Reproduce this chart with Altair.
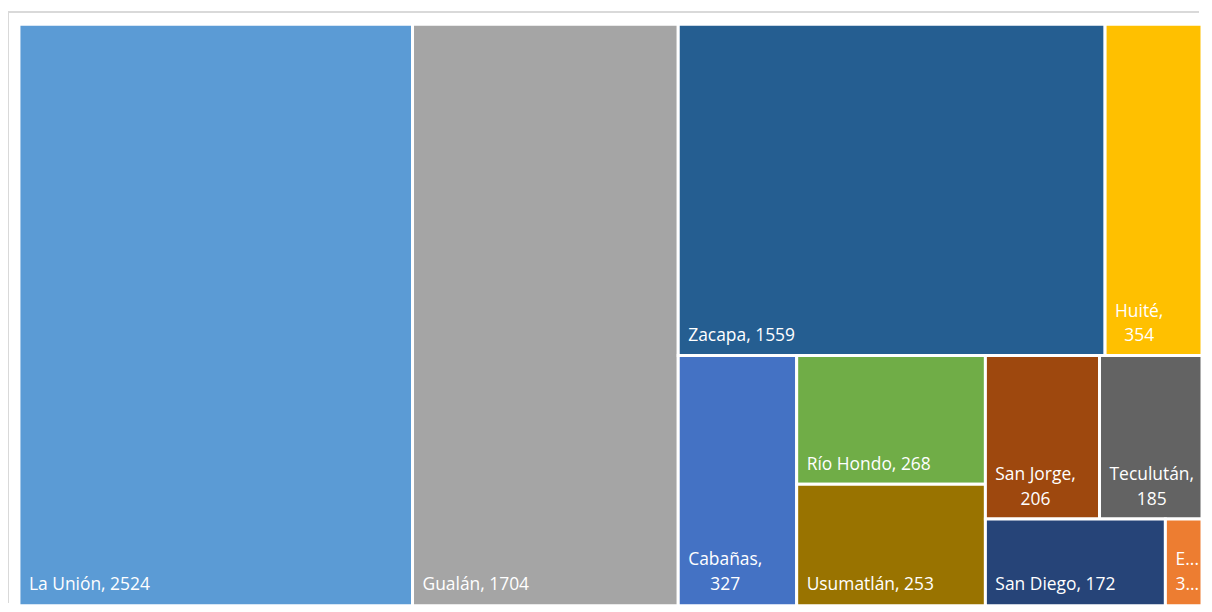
import altair as alt
import pandas as pd

# ---- data ----
names = ["La Unión", "Gualán", "Zacapa", "Huité", "Cabañas", "Río Hondo",
         "Usumatlán", "San Jorge", "Teculután", "San Diego", "Estanzuela"]
values = [2524, 1704, 1559, 354, 327, 268, 253, 206, 185, 172, 35]
colors = ["#5B9BD5", "#A5A5A5", "#255E91", "#FFC000", "#4472C4", "#70AD47",
          "#997300", "#9E480E", "#636363", "#264478", "#ED7D31"]

# how many consecutive items share each strip of the squarified layout
strip_sizes = [1, 1, 2, 1, 2, 2, 1, 1]

# ---- layout constants ----
VIEW_W, VIEW_H = 1196, 596
OFF_X, OFF_Y = 11, 15         # treemap offset inside the view
W, H = 1188.0, 584.0          # treemap area (layout units = px)
FS = 17.5
LINE_H = 24.5
FONT = "Open Sans"
GAP = 3


def strip_layout(vals, x, y, w, h, sizes):
    rects = []
    i = 0
    remaining = float(sum(vals))
    for k in sizes:
        group = vals[i:i + k]
        s = float(sum(group))
        if w >= h:  # wide: strip is a column on the left
            cw = w * s / remaining
            yy = y
            for v in group:
                hh = h * v / s
                rects.append((x, yy, x + cw, yy + hh))
                yy += hh
            x += cw
            w -= cw
        else:       # tall: strip is a row on top
            rh = h * s / remaining
            xx = x
            for v in group:
                ww = w * v / s
                rects.append((xx, y, xx + ww, y + rh))
                xx += ww
            y += rh
            h -= rh
        remaining -= s
        i += k
    return rects


CW = {" ": 0.26, ",": 0.245, ".": 0.266}
for d in "0123456789":
    CW[d] = 0.572
low = {"a": 0.556, "á": 0.556, "b": 0.613, "c": 0.48, "d": 0.613, "e": 0.561,
       "é": 0.561, "g": 0.538, "h": 0.615, "i": 0.258, "í": 0.258, "j": 0.258,
       "l": 0.258, "m": 0.93, "n": 0.615, "ñ": 0.615, "o": 0.601, "ó": 0.601,
       "p": 0.613, "r": 0.408, "s": 0.477, "t": 0.352, "u": 0.615, "z": 0.47}
CW.update(low)
caps = {"C": 0.633, "D": 0.72, "E": 0.556, "G": 0.73, "H": 0.738, "J": 0.27,
        "L": 0.519, "R": 0.6, "S": 0.549, "T": 0.556, "U": 0.73, "Z": 0.568}
CW.update(caps)


def text_w(s):
    return sum(CW.get(ch, 0.58) for ch in s) * FS


rects = strip_layout(values, 0.0, 0.0, W, H, strip_sizes)
rows = []
for n, v, c, (x0, y0, x1, y1) in zip(names, values, colors, rects):
    tile_w = (x1 - x0) - GAP
    full = f"{n}, {v}"
    if text_w(full) + 14 <= tile_w:
        lines = [full]
    elif text_w(n + ",") + 14 <= tile_w:
        lines = [n + ",", str(v)]
    else:
        lines = [n[0] + "...", str(v)[0] + "..."]
    block = max(text_w(s) for s in lines)
    vis_bottom = min(y1 - GAP / 2, VIEW_H - OFF_Y)
    rows.append({
        "name": n, "value": v, "x0": x0, "x1": x1, "y0": y0, "y1": y1,
        "label": "\n".join(lines), "multi": len(lines) > 1,
        "lx": x0 + 10, "cx": x0 + 10 + block / 2,
        "ly": vis_bottom - 9 - LINE_H * (len(lines) - 1),
    })
df = pd.DataFrame(rows)

xs = alt.Scale(domain=[-OFF_X, VIEW_W - OFF_X], nice=False, zero=False)
ys = alt.Scale(domain=[-OFF_Y, VIEW_H - OFF_Y], nice=False, zero=False, reverse=True)

base = alt.Chart(df)

tiles = base.mark_rect(stroke="white", strokeWidth=GAP).encode(
    x=alt.X("x0:Q", scale=xs, axis=None),
    x2="x1:Q",
    y=alt.Y("y0:Q", scale=ys, axis=None),
    y2="y1:Q",
    color=alt.Color("name:N", scale=alt.Scale(domain=names, range=colors), legend=None),
)

single = base.transform_filter("!datum.multi").mark_text(
    align="left", baseline="bottom", font=FONT, fontSize=FS, color="white", lineBreak="\n"
).encode(
    x=alt.X("lx:Q", scale=xs, axis=None),
    y=alt.Y("ly:Q", scale=ys, axis=None),
    text="label:N",
)

multi = base.transform_filter("datum.multi").mark_text(
    align="center", baseline="bottom", font=FONT, fontSize=FS, color="white",
    lineBreak="\n", lineHeight=LINE_H
).encode(
    x=alt.X("cx:Q", scale=xs, axis=None),
    y=alt.Y("ly:Q", scale=ys, axis=None),
    text="label:N",
)

border_left = alt.Chart(df).mark_rule(color="#d9d9d9", strokeWidth=1).encode(
    x=alt.value(0.5), y=alt.value(2.5), y2=alt.value(VIEW_H)
)
border_top = alt.Chart(df).mark_rule(color="#d9d9d9", strokeWidth=1).encode(
    x=alt.value(0.5), x2=alt.value(VIEW_W), y=alt.value(2.5)
)

chart = alt.layer(border_left, border_top, tiles, single, multi).properties(
    width=VIEW_W, height=VIEW_H, padding=0, background="white"
).configure_view(stroke=None)

chart.save("out.html", embed_options={"renderer": "svg", "actions": False})
